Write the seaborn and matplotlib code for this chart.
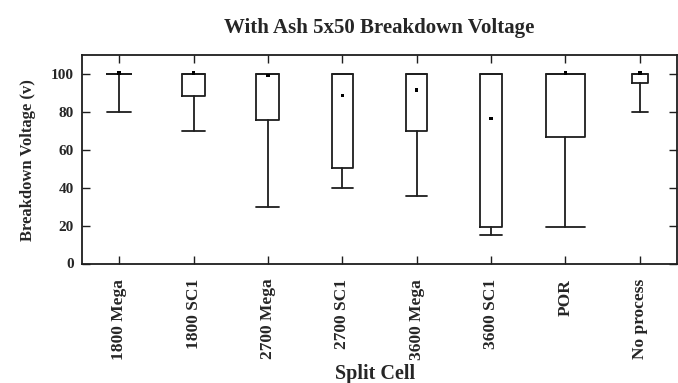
import matplotlib
matplotlib.use("Agg")
import matplotlib.pyplot as plt
import seaborn as sns
import numpy as np

# Split cells and their breakdown-voltage candlestick values (V)
categories = ["1800 Mega", "1800 SC1", "2700 Mega", "2700 SC1",
              "3600 Mega", "3600 SC1", "POR", "No process"]
whisker_low = [80, 70, 30, 40, 35.5, 15, 19.5, 80]
box_low = [100, 88.5, 75.5, 50.5, 70, 19.5, 67, 95]
box_high = [100, 100, 100, 100, 100, 100, 100, 100]
whisker_high = [100, 100, 100, 100, 100, 100, 100, 100]
center = [100, 100, 98.5, 88, 91, 76, 100, 100]
box_widths = [0.33, 0.31, 0.31, 0.29, 0.29, 0.30, 0.515, 0.215]
y_ticks = [0, 20, 40, 60, 80, 100]

sns.set_theme(style="ticks")
plt.rcParams["font.family"] = ["Liberation Serif", "DejaVu Serif"]
plt.rcParams["font.weight"] = "bold"

line_color = "#1e1e1e"
fig = plt.figure(figsize=(6.78, 3.83), dpi=100)
ax = fig.add_axes([82 / 678, 1 - 263.5 / 383, (677 - 82) / 678, (263.5 - 55) / 383])

positions = np.arange(len(categories))
stats = [
    {"med": c, "q1": bl, "q3": bh, "whislo": wl, "whishi": wh, "fliers": []}
    for c, bl, bh, wl, wh in zip(center, box_low, box_high, whisker_low, whisker_high)
]
ax.bxp(stats, positions=positions, widths=box_widths, capwidths=box_widths,
       showfliers=False, patch_artist=False,
       boxprops=dict(color=line_color, linewidth=1.3),
       whiskerprops=dict(color=line_color, linewidth=1.3),
       capprops=dict(color=line_color, linewidth=1.3),
       medianprops=dict(linewidth=0))

# centre value of each cell as a small dot
sns.scatterplot(x=positions, y=np.array(center) + 0.6, marker="s", s=6,
                color="black", edgecolor="none", ax=ax, zorder=5)

ax.set_xlim(-0.5, 7.5)
ax.set_ylim(0, 110)
ax.set_yticks(y_ticks)
ax.set_yticklabels([str(v) for v in y_ticks], fontsize=11, fontweight="bold")
ax.set_xticks(positions)
ax.set_xticklabels(categories, rotation=90, fontsize=12.5, fontweight="bold", va="top")

ax.tick_params(axis="both", direction="in", top=True, right=True,
               length=5.5, width=1.0, color=line_color)
ax.tick_params(axis="x", pad=11)
ax.tick_params(axis="y", pad=6)
for s in ax.spines.values():
    s.set_visible(True)
    s.set_linewidth(1.3)
    s.set_color(line_color)

fig.text(0.5 * (82 + 677) / 678, 1 - 28 / 383, "With Ash 5x50 Breakdown Voltage",
         ha="center", va="center", fontsize=15, fontweight="bold")
fig.text(28 / 678, 1 - 160 / 383, "Breakdown Voltage (v)", rotation=90,
         ha="center", va="center", fontsize=12, fontweight="bold")
fig.text(375 / 678, 1 - 374 / 383, "Split Cell", ha="center", va="center",
         fontsize=14.5, fontweight="bold")

fig.savefig("out.png", dpi=100)
